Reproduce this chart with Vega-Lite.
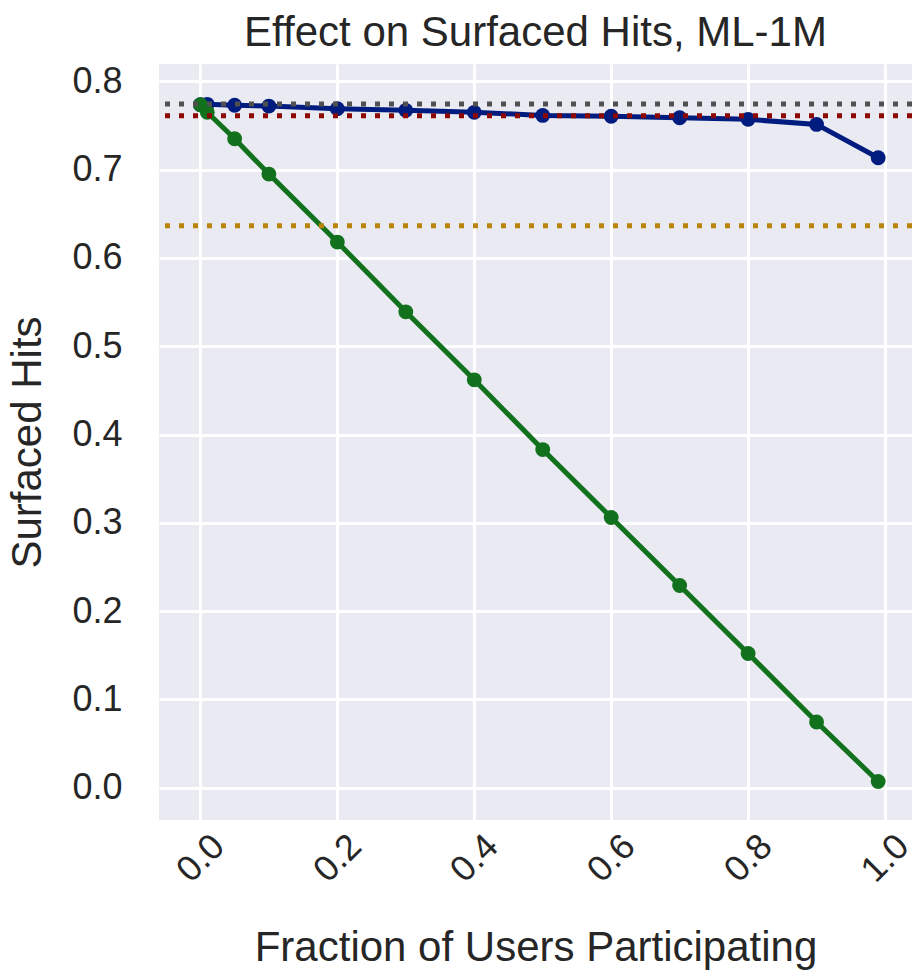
{
  "$schema": "https://vega.github.io/schema/vega-lite/v6.json",
  "width": 753,
  "height": 756,
  "autosize": {"type": "none"},
  "padding": {"left": 159, "top": 64, "right": 0, "bottom": 150},
  "background": "white",
  "title": {
    "text": "Effect on Surfaced Hits, ML-1M",
    "font": "Liberation Sans",
    "fontSize": 42,
    "fontWeight": "normal",
    "color": "#262626",
    "baseline": "alphabetic",
    "offset": 21,
    "dy": 46,
    "anchor": "middle"
  },
  "config": {
    "view": {"fill": "#EAEAF2", "stroke": null},
    "axis": {
      "domain": false,
      "ticks": false,
      "grid": true,
      "gridColor": "#FFFFFF",
      "gridWidth": 3,
      "labelFont": "Liberation Sans",
      "labelFontSize": 36,
      "labelColor": "#262626",
      "titleFont": "Liberation Sans",
      "titleFontSize": 42,
      "titleFontWeight": "normal",
      "titleColor": "#262626"
    }
  },
  "datasets": {
    "curves": [
      {"series": "strategy_1", "fraction": 0.0, "hits": 0.7735},
      {"series": "strategy_1", "fraction": 0.01, "hits": 0.774},
      {"series": "strategy_1", "fraction": 0.05, "hits": 0.773},
      {"series": "strategy_1", "fraction": 0.1, "hits": 0.772},
      {"series": "strategy_1", "fraction": 0.2, "hits": 0.769},
      {"series": "strategy_1", "fraction": 0.3, "hits": 0.7672},
      {"series": "strategy_1", "fraction": 0.4, "hits": 0.765},
      {"series": "strategy_1", "fraction": 0.5, "hits": 0.7615},
      {"series": "strategy_1", "fraction": 0.6, "hits": 0.7605},
      {"series": "strategy_1", "fraction": 0.7, "hits": 0.7588},
      {"series": "strategy_1", "fraction": 0.8, "hits": 0.757},
      {"series": "strategy_1", "fraction": 0.9, "hits": 0.7513},
      {"series": "strategy_1", "fraction": 0.99, "hits": 0.7135},
      {"series": "strategy_2", "fraction": 0.0, "hits": 0.7735},
      {"series": "strategy_2", "fraction": 0.01, "hits": 0.765},
      {"series": "strategy_2", "fraction": 0.05, "hits": 0.735},
      {"series": "strategy_2", "fraction": 0.1, "hits": 0.695},
      {"series": "strategy_2", "fraction": 0.2, "hits": 0.618},
      {"series": "strategy_2", "fraction": 0.3, "hits": 0.539},
      {"series": "strategy_2", "fraction": 0.4, "hits": 0.462},
      {"series": "strategy_2", "fraction": 0.5, "hits": 0.383},
      {"series": "strategy_2", "fraction": 0.6, "hits": 0.306},
      {"series": "strategy_2", "fraction": 0.7, "hits": 0.229},
      {"series": "strategy_2", "fraction": 0.8, "hits": 0.152},
      {"series": "strategy_2", "fraction": 0.9, "hits": 0.0744},
      {"series": "strategy_2", "fraction": 0.99, "hits": 0.007}
    ],
    "references": [
      {"reference": "baseline_upper", "hits": 0.7744},
      {"reference": "baseline_mid", "hits": 0.7611},
      {"reference": "baseline_low", "hits": 0.6364}
    ]
  },
  "encoding": {
    "x": {
      "field": "fraction",
      "type": "quantitative",
      "scale": {"domain": [-0.0605, 1.0394], "nice": false, "zero": false},
      "axis": {
        "title": "Fraction of Users Participating",
        "values": [0, 0.2, 0.4, 0.6, 0.8, 1.0],
        "format": ".1f",
        "labelAngle": -45,
        "labelAlign": "center",
        "labelBaseline": "middle",
        "labelPadding": 38,
        "titleBaseline": "alphabetic",
        "titleY": 140
      }
    },
    "y": {
      "field": "hits",
      "type": "quantitative",
      "scale": {"domain": [-0.0366, 0.8197], "nice": false, "zero": false},
      "axis": {
        "title": "Surfaced Hits",
        "values": [0, 0.1, 0.2, 0.3, 0.4, 0.5, 0.6, 0.7, 0.8],
        "format": ".1f",
        "labelPadding": 37,
        "titlePadding": 22
      }
    }
  },
  "layer": [
    {
      "data": {"name": "curves"},
      "transform": [{"filter": "datum.series === 'strategy_1'"}],
      "mark": {
        "type": "line",
        "color": "#001c7f",
        "strokeWidth": 5,
        "point": {"filled": true, "size": 220, "opacity": 1, "color": "#001c7f"}
      }
    },
    {
      "data": {"name": "curves"},
      "transform": [{"filter": "datum.series === 'strategy_2'"}],
      "mark": {
        "type": "line",
        "color": "#12711c",
        "strokeWidth": 5,
        "point": {"filled": true, "size": 220, "opacity": 1, "color": "#12711c"}
      }
    },
    {
      "data": {"name": "references"},
      "mark": {"type": "rule", "strokeWidth": 5, "strokeDash": [5, 9], "strokeCap": "butt"},
      "encoding": {
        "x": null,
        "y": {"field": "hits", "type": "quantitative"},
        "color": {
          "field": "reference",
          "type": "nominal",
          "scale": {
            "domain": ["baseline_upper", "baseline_mid", "baseline_low"],
            "range": ["#505050", "#8c0800", "#b8850a"]
          },
          "legend": null
        }
      }
    }
  ]
}
